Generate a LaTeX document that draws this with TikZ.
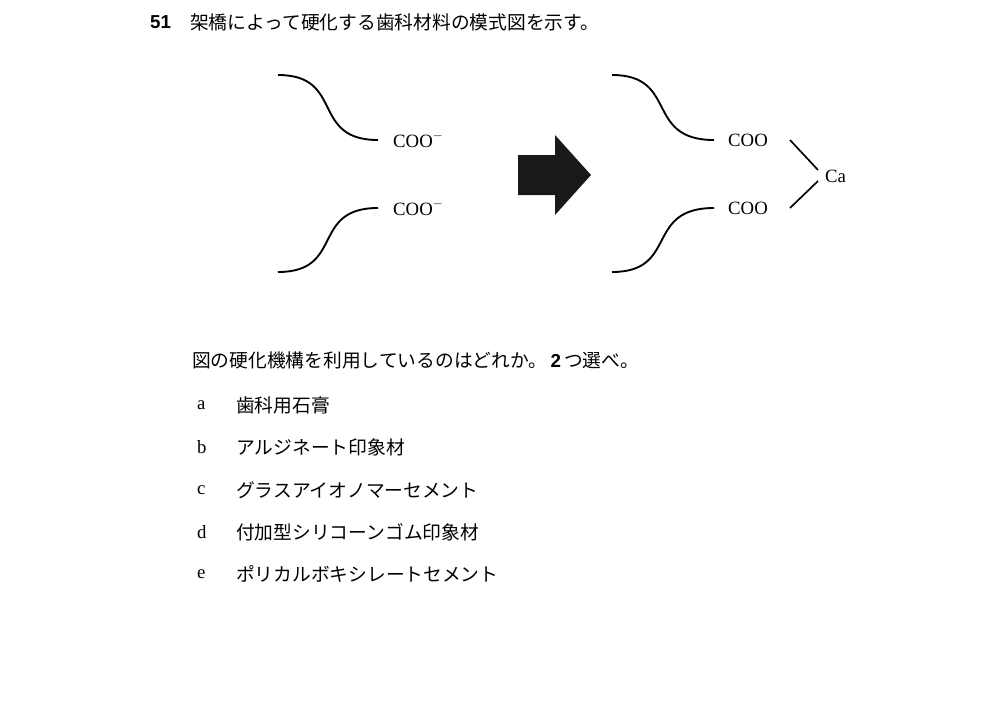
\documentclass[tikz,border=0pt]{standalone}
\usepackage{fontspec}
\setmainfont{Liberation Serif}
\newfontfamily\jpfont{Noto Sans CJK JP}
\newfontfamily\numfont{Liberation Sans}
\usetikzlibrary{positioning}

\tikzset{
  jptext/.style={anchor=west,inner sep=0pt,font=\jpfont\fontsize{16}{18}\selectfont},
  chem/.style={anchor=west,inner sep=0pt,font=\fontsize{16}{18}\selectfont},
  chain/.style={line width=1.6pt},
}

\begin{document}
\begin{tikzpicture}[x=0.03cm,y=-0.03cm]
        \useasboundingbox (0,0) rectangle (1000,719);

        % Heading
        \node[anchor=west,inner sep=0pt,font=\numfont\bfseries\fontsize{16}{18}\selectfont] (num) at (150,22) {51};
        \node[jptext] (title) at (190,22) {架橋によって硬化する歯科材料の模式図を示す。};

        % Left side chains
        \draw[chain] (278,75) .. controls (345,75) and (310,140) .. (378,140);
        \draw[chain] (278,272) .. controls (345,272) and (310,208) .. (378,208);
        \node[chem] (cooL1) at (393,140) {COO$^{-}$};
        \node[chem] (cooL2) at (393,208) {COO$^{-}$};

        % ================== Middle arrow ==================
        \fill[black!90] (518,155) -- (555,155) -- (555,135) -- (591,175)
            -- (555,215) -- (555,195) -- (518,195) -- cycle;
        % ==================================================

        % Right side chains
        \draw[chain] (612,75) .. controls (679,75) and (644,140) .. (714,140);
        \draw[chain] (612,272) .. controls (679,272) and (644,208) .. (714,208);
        \node[chem] (cooR1) at (728,140) {COO};
        \node[chem] (cooR2) at (728,208) {COO};
        \node[chem] (ca) at (825,176) {Ca};

        % Bonds to Ca
        \coordinate (bondA) at (790,140);
        \coordinate (bondB) at (790,208);
        \coordinate (caTop) at (818,170);
        \coordinate (caBot) at (818,181);
        \draw[line width=1.4pt] (bondA) -- (caTop);
        \draw[line width=1.4pt] (bondB) -- (caBot);

        % Question
        \node[jptext] (question) at (192,360) {図の硬化機構を利用しているのはどれか。\,{\numfont\bfseries 2}\,つ選べ。};

        % Options
        \node[chem] (la) at (197,405) {a};
        \node[jptext] (oa) at (236,405) {歯科用石膏};
        \node[chem] (lb) at (197,447) {b};
        \node[jptext] (ob) at (236,447) {アルジネート印象材};
        \node[chem] (lc) at (197,490) {c};
        \node[jptext] (oc) at (236,490) {グラスアイオノマーセメント};
        \node[chem] (ld) at (197,532) {d};
        \node[jptext] (od) at (236,532) {付加型シリコーンゴム印象材};
        \node[chem] (le) at (197,574) {e};
        \node[jptext] (oe) at (236,574) {ポリカルボキシレートセメント};
\end{tikzpicture}
\end{document}
